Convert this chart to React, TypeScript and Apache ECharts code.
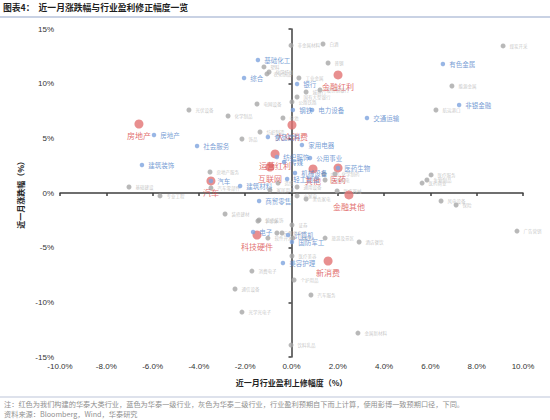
import React, { useEffect, useRef } from "react";
import * as echarts from "echarts";

// ---- Data ----
const xTickLabels = ["-10.0%", "-8.0%", "-6.0%", "-4.0%", "-2.0%", "0.0%", "2.0%", "4.0%", "6.0%", "8.0%", "10.0%"];
const yTickLabels = ["-15%", "-10%", "-5%", "0%", "5%", "10%", "15%"];

// 华泰大类行业 (red)
const redNames = ["房地产", "金融红利", "大众消费", "运营红利", "互联网", "汽车", "医药", "其他", "金融其他", "科技硬件", "新消费"];
const redX = [-6.59, 2.01, 0.02, -0.71, -0.93, -3.48, 2.01, 0.93, 2.48, -1.49, 1.58];
const redY = [6.31, 10.8, 6.22, 3.57, 2.38, 1.1, 2.29, 2.2, -0.18, -3.84, -6.22];

// 华泰一级行业 (blue)
const blueNames = ["有色金属", "基础化工", "综合", "银行", "钢铁", "电力设备", "交通运输", "非银金融", "房地产", "社会服务", "建筑装饰", "食品饮料", "家用电器", "公用事业", "纺织服饰", "医药生物", "机械设备", "轻工制造", "建筑材料", "汽车", "商贸零售", "电子", "计算机", "国防军工", "美容护理", "传媒"];
const blueX = [6.54, -1.45, -2.05, 0.24, 0.06, 0.89, 3.26, 7.24, -5.94, -4.08, -6.46, -1.02, 0.45, 0.8, -0.63, 2.01, 0.15, -0.19, -2.22, -3.48, -1.4, -1.66, -0.15, 0.02, -0.37, -0.32];
const blueY = [11.8, 12.17, 10.52, 9.97, 7.59, 7.59, 6.86, 8.05, 5.31, 4.3, 2.56, 5.12, 4.39, 3.2, 3.29, 2.29, 1.83, 1.28, 0.64, 1.1, -0.73, -3.57, -3.84, -4.48, -6.4, 2.84];

// 华泰二级行业 (gray)
const grayNames = ["非金属材料", "白酒", "煤炭开采", "普钢", "塑料", "化学纤维", "农化制品", "工业金属", "股份制银行", "城商行", "国有大型银行", "能源金属", "航运港口", "光伏设备", "化学制品", "电网设备", "电池", "纺织制造", "饰品", "基础建设", "专业工程", "房地产服务", "汽车零部件", "装修建材", "装修装饰", "造纸", "家居用品", "通用设备", "小家电", "黑色家电", "白色家电", "中药", "化学制药", "医疗器械", "医疗服务", "生物制品", "医药商业", "风电设备", "保险", "广告营销", "半导体", "证券", "元件", "其他电子", "软件开发", "IT服务", "旅游及景区", "酒店餐饮", "医疗美容", "消费电子", "个护用品", "通信设备", "汽车服务", "光学光电子", "金属新材料", "饮料乳品", "公路铁路"];
const grayX = [-0.02, 1.36, 9.14, 1.58, -1.19, -0.97, -1.06, 0.32, 1.23, 0.63, 0.24, 6.93, 6.24, -4.43, -2.74, -1.49, -0.37, -1.36, -2.14, -7.02, -5.68, -3.52, -3.48, -2.87, -1.4, -0.58, -0.93, 0.24, 0.24, 0.63, 1.45, 1.4, 1.88, 1.97, 6.03, 5.85, 5.64, 6.46, 7.11, 9.74, -1.45, 0.02, -0.63, -0.41, -1.02, 0.06, 1.45, 2.92, 0.02, -1.71, 0.11, -2.44, 0.84, -2.14, 2.87, -0.02, 0.02];
const grayY = [13.5, 13.63, 13.45, 11.89, 11.53, 11.07, 10.89, 10.52, 9.42, 9.24, 8.78, 9.79, 7.59, 7.59, 7.04, 8.14, 6.86, 5.58, 4.94, 0.55, -0.27, 1.92, 0.46, -1.92, -2.47, 0.91, 0.27, 0.55, -0.27, -0.55, 1.19, 1.74, 1.74, 0.18, 1.65, 1.19, 0.91, -0.73, -1.1, -3.48, -2.56, -2.93, -3.66, -3.66, -4.12, -4.12, -4.12, -4.48, -5.76, -7.14, -7.96, -8.78, -9.33, -10.89, -12.81, -13.91, 8.33];

const titleText = "图表4：  近一月涨跌幅与行业盈利修正幅度一览";
const xAxisName = "近一月行业盈利上修幅度（%）";
const yAxisName = "近一月涨跌幅（%）";
const noteText = "注：红色为我们构建的华泰大类行业，蓝色为华泰一级行业，灰色为华泰二级行业，行业盈利预期自下而上计算，使用彭博一致预期口径，下同。";
const sourceText = "资料来源：Bloomberg，Wind，华泰研究";

const CJK = "'Noto Sans CJK SC', sans-serif";
const NUM = "'Liberation Sans', Arial, 'Noto Sans CJK SC', sans-serif";

function build(names: string[], xs: number[], ys: number[]) {
  return names.map((n, i) => ({ name: n, value: [xs[i], ys[i]] }));
}

export default function App() {
  const ref = useRef<HTMLDivElement>(null);
  useEffect(() => {
    document.body.style.margin = "0";
    if (!ref.current) return;
    const chart = echarts.init(ref.current, undefined, { renderer: "svg" });
    const axisLineStyle = { color: "#3f3f3f", width: 1.5 };
    chart.setOption({
      animation: false,
      backgroundColor: "#ffffff",
      grid: { left: 60, right: 27, top: 29, bottom: 63, containLabel: false },
      xAxis: [
        {
          type: "value",
          min: -10,
          max: 10,
          interval: 2,
          position: "bottom",
          axisLine: { show: true, onZero: true, lineStyle: axisLineStyle },
          axisTick: { show: true, length: 3, lineStyle: axisLineStyle },
          axisLabel: { show: false },
          splitLine: { show: false },
        },
        {
          type: "value",
          min: -10,
          max: 10,
          interval: 2,
          position: "bottom",
          axisLine: { show: false, onZero: false },
          axisTick: { show: false },
          splitLine: { show: false },
          axisLabel: {
            show: true,
            margin: 5,
            fontSize: 8,
            color: "#333333",
            fontFamily: NUM,
            formatter: (v: number) => xTickLabels[Math.round((v + 10) / 2)] ?? "",
          },
          name: xAxisName,
          nameLocation: "middle",
          nameGap: 21,
          nameTextStyle: { fontSize: 8, fontWeight: "bold", color: "#222222", fontFamily: CJK },
        },
      ],
      yAxis: [
        {
          type: "value",
          min: -15,
          max: 15,
          interval: 5,
          position: "left",
          axisLine: { show: true, onZero: true, lineStyle: axisLineStyle },
          axisTick: { show: true, length: 3, lineStyle: axisLineStyle },
          axisLabel: { show: false },
          splitLine: { show: false },
        },
        {
          type: "value",
          min: -15,
          max: 15,
          interval: 5,
          position: "left",
          axisLine: { show: false, onZero: false },
          axisTick: { show: false },
          splitLine: { show: false },
          axisLabel: {
            show: true,
            margin: 6,
            fontSize: 8,
            color: "#333333",
            fontFamily: NUM,
            formatter: (v: number) => yTickLabels[Math.round((v + 15) / 5)] ?? "",
          },
          name: yAxisName,
          nameLocation: "middle",
          nameGap: 28,
          nameRotate: 90,
          nameTextStyle: { fontSize: 8, fontWeight: "bold", color: "#222222", fontFamily: CJK },
        },
      ],
      series: [
        {
          name: "二级行业",
          type: "scatter",
          xAxisIndex: 0,
          yAxisIndex: 0,
          symbolSize: 5,
          itemStyle: { color: "#a6a6a6" },
          data: build(grayNames, grayX, grayY),
          label: {
            show: true,
            position: "right",
            distance: 4,
            formatter: "{b}",
            fontSize: 4.5,
            color: "#b8b8b8",
            fontFamily: CJK,
          },
          z: 2,
        },
        {
          name: "大类行业",
          type: "scatter",
          xAxisIndex: 0,
          yAxisIndex: 0,
          symbolSize: 9,
          itemStyle: { color: "#e27373" },
          data: build(redNames, redX, redY),
          label: {
            show: true,
            position: "bottom",
            distance: 3,
            formatter: "{b}",
            fontSize: 8,
            color: "#d94a4a",
            fontFamily: CJK,
          },
          z: 3,
        },
        {
          name: "一级行业",
          type: "scatter",
          xAxisIndex: 0,
          yAxisIndex: 0,
          symbolSize: 4.5,
          itemStyle: { color: "#7ea4de" },
          data: build(blueNames, blueX, blueY),
          label: {
            show: true,
            position: "right",
            distance: 4,
            formatter: "{b}",
            fontSize: 6.5,
            color: "#5585ca",
            fontFamily: CJK,
          },
          z: 4,
        },
      ],
      graphic: [
        {
          type: "text",
          left: 3,
          top: 3,
          style: { text: titleText, fontSize: 8.8, fontWeight: "bold", fill: "#1f1f1f", fontFamily: CJK },
        },
        {
          type: "line",
          shape: { x1: 0, y1: 17, x2: 550, y2: 17 },
          style: { stroke: "#c9d2e4", lineWidth: 2 },
        },
        {
          type: "line",
          shape: { x1: 0, y1: 397, x2: 550, y2: 397 },
          style: { stroke: "#d3d9e6", lineWidth: 1.5 },
        },
        {
          type: "text",
          left: 4,
          top: 400,
          style: { text: noteText, fontSize: 7.2, fill: "#8f8f8f", fontFamily: CJK },
        },
        {
          type: "text",
          left: 4,
          top: 410.5,
          style: { text: sourceText, fontSize: 7.2, fill: "#8f8f8f", fontFamily: CJK },
        },
      ],
    });
    return () => chart.dispose();
  }, []);
  return <div ref={ref} style={{ width: 550, height: 420 }} />;
}
